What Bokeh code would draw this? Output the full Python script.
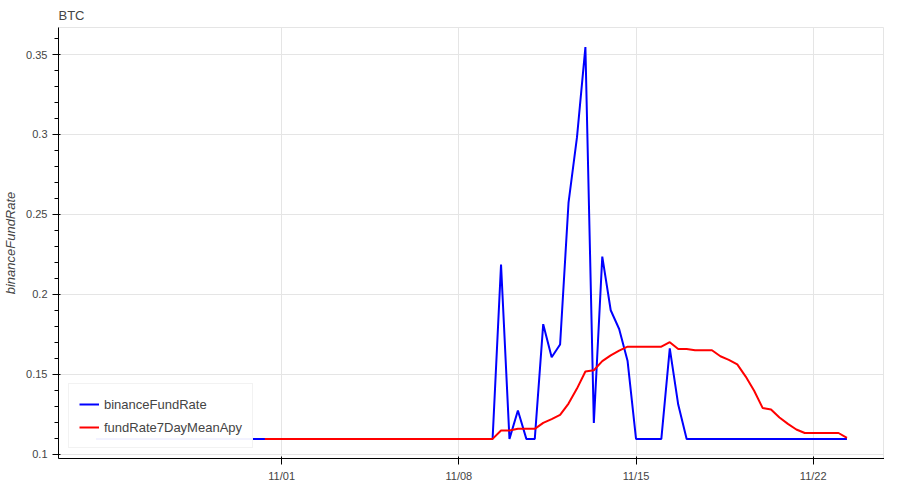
import pandas as pd
from bokeh.plotting import figure
from bokeh.models import ColumnDataSource, DatetimeTickFormatter, Legend
from bokeh.embed import file_html
from bokeh.resources import INLINE

start_time = "2023-10-24 16:00"
n_points = 90
red_offset = 20

binance_fund_rate = [
    0.1095, 0.1095, 0.1095, 0.1095, 0.1095, 0.1095, 0.1095, 0.1095, 0.1095, 0.1095,
    0.1095, 0.1095, 0.1095, 0.1095, 0.1095, 0.1095, 0.1095, 0.1095, 0.1095, 0.1095,
    0.1095, 0.1095, 0.1095, 0.1095, 0.1095, 0.1095, 0.1095, 0.1095, 0.1095, 0.1095,
    0.1095, 0.1095, 0.1095, 0.1095, 0.1095, 0.1095, 0.1095, 0.1095, 0.1095, 0.1095,
    0.1095, 0.1095, 0.1095, 0.1095, 0.1095, 0.1095, 0.1095, 0.1095,
    0.2186, 0.1095, 0.1273, 0.1095, 0.1095, 0.1813, 0.1606, 0.1686,
    0.2573, 0.2982, 0.3547, 0.1195, 0.2236, 0.1900, 0.1783, 0.1582,
    0.1095, 0.1095, 0.1095, 0.1095, 0.1662, 0.1310,
    0.1095, 0.1095, 0.1095, 0.1095, 0.1095, 0.1095, 0.1095, 0.1095, 0.1095, 0.1095,
    0.1095, 0.1095, 0.1095, 0.1095, 0.1095, 0.1095, 0.1095, 0.1095, 0.1095, 0.1095,
]

fund_rate_7day_mean_apy = [
    0.1095, 0.1095, 0.1095, 0.1095, 0.1095, 0.1095, 0.1095, 0.1095, 0.1095, 0.1095,
    0.1095, 0.1095, 0.1095, 0.1095, 0.1095, 0.1095, 0.1095, 0.1095, 0.1095, 0.1095,
    0.1095, 0.1095, 0.1095, 0.1095, 0.1095, 0.1095, 0.1095, 0.1095,
    0.1148, 0.1148, 0.1158, 0.1158, 0.1158, 0.1195, 0.1219, 0.1245, 0.1316, 0.1410,
    0.1517, 0.1525, 0.1582, 0.1618, 0.1648, 0.1672, 0.1672, 0.1672, 0.1672, 0.1672,
    0.1700, 0.1658, 0.1658, 0.1650, 0.1650, 0.1650, 0.1612, 0.1590, 0.1561, 0.1485,
    0.1396, 0.1289, 0.1279, 0.1229, 0.1189, 0.1154, 0.1132, 0.1132, 0.1132, 0.1132,
    0.1132, 0.1102,
]

dates = pd.date_range(start_time, periods=n_points, freq="8h")

src_blue = ColumnDataSource(dict(t=dates, v=binance_fund_rate))
src_red = ColumnDataSource(dict(t=dates[red_offset:], v=fund_rate_7day_mean_apy))

p = figure(width=884, height=484, x_axis_type="datetime", title="BTC",
           output_backend="svg", toolbar_location=None,
           min_border_right=0, min_border_bottom=0)
p.title.text_font_style = "normal"
p.title.text_color = "#444444"
p.title.text_font_size = "13px"

r1 = p.line("t", "v", source=src_blue, line_color="#0000ff", line_width=2)
r2 = p.line("t", "v", source=src_red, line_color="#ff0000", line_width=2)

legend = Legend(items=[("binanceFundRate", [r1]), ("fundRate7DayMeanApy", [r2])],
                location="bottom_left")
p.add_layout(legend, "center")

p.yaxis.axis_label = "binanceFundRate"
p.xaxis.formatter = DatetimeTickFormatter(days="%m/%d", months="%m/%d")
p.xaxis.minor_tick_line_color = None

open("out.html", "w").write(file_html(p, INLINE))
